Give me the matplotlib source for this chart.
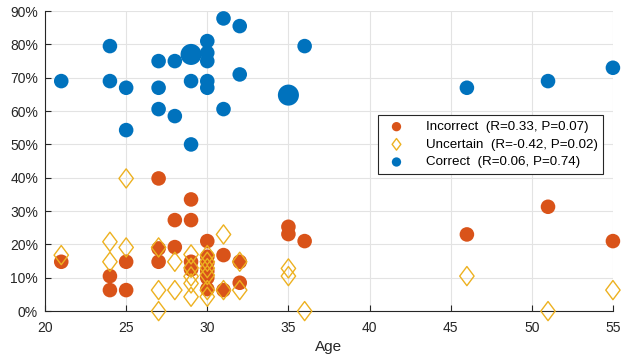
import numpy as np
import matplotlib.pyplot as plt
from matplotlib.path import Path
from matplotlib.ticker import FuncFormatter

plt.rcParams['font.family'] = ['Liberation Sans', 'DejaVu Sans']

# correct (blue), sizes: 1 = normal, 2 = big
cor_age = [21, 24, 24, 25, 25, 27, 27, 27, 28, 28, 29, 29, 29, 30, 30, 30, 30, 30,
           31, 31, 32, 32, 35, 36, 46, 51, 55]
cor_pct = [69, 79.5, 69, 67, 54.3, 75, 67, 60.6, 75, 58.5, 77, 69, 50, 81, 77.5, 75, 69, 67,
           87.8, 60.6, 85.5, 71, 64.8, 79.5, 67, 69, 73]
cor_n = [1, 1, 1, 1, 1, 1, 1, 1, 1, 1, 2, 1, 1, 1, 1, 1, 1, 1,
         1, 1, 1, 1, 2, 1, 1, 1, 1]

inc_age = [21, 24, 24, 25, 25, 27, 27, 27, 28, 28, 29, 29, 29, 29, 30, 30, 30, 30, 30, 30,
           31, 31, 32, 32, 35, 35, 36, 46, 51, 55]
inc_pct = [14.8, 10.5, 6.3, 14.8, 6.3, 39.8, 18.8, 14.8, 27.3, 19.2, 33.5, 27.3, 14.8, 12.5,
           21, 16.3, 14.4, 12, 10, 6.6, 16.8, 6.3, 14.8, 8.5, 25.3, 23.1, 21, 23, 31.3, 21]

unc_age = [21, 24, 24, 25, 25, 27, 27, 27, 28, 28, 29, 29, 29, 29, 29, 30, 30, 30, 30, 30, 30,
           31, 31, 32, 32, 35, 35, 36, 46, 51, 55]
unc_pct = [16.8, 20.8, 14.8, 39.8, 19.1, 19.1, 6.3, 0, 14.8, 6.3, 17, 13, 10.4, 8.3, 4.3,
           16.8, 14.8, 12.9, 10.8, 6.3, 4.3, 23, 6.3, 14.8, 6.3, 12.8, 10.5, 0, 10.5, 0, 6.3]

labels = ['Incorrect  (R=0.33, P=0.07)', 'Uncertain  (R=-0.42, P=0.02)', 'Correct  (R=0.06, P=0.74)']
c_inc = '#D95319'
c_unc = '#EDB120'
c_cor = '#0072BD'

diamond = Path([(0, 1), (0.75, 0), (0, -1), (-0.75, 0), (0, 1)],
               [Path.MOVETO, Path.LINETO, Path.LINETO, Path.LINETO, Path.CLOSEPOLY])

fig = plt.figure(figsize=(6.21, 3.58), dpi=100)
ax = fig.add_axes([0.0725, 0.131, 0.9145, 0.838])

ax.scatter(inc_age, inc_pct, s=110, color=c_inc, edgecolors='none', label=labels[0],
           zorder=3, clip_on=False)
ax.scatter(unc_age, unc_pct, s=190, marker=diamond, facecolors='none', edgecolors=c_unc,
           linewidths=1.0, label=labels[1], zorder=4, clip_on=False)
ax.scatter(cor_age, cor_pct, s=[110 if n == 1 else 230 for n in cor_n], color=c_cor,
           edgecolors='none', label=labels[2], zorder=3, clip_on=False)

ax.set_xlim(20, 55)
ax.set_ylim(0, 90)
ax.set_xticks(np.arange(20, 56, 5))
ax.set_yticks(np.arange(0, 91, 10))
ax.yaxis.set_major_formatter(FuncFormatter(lambda v, p: '%d%%' % v))
ax.grid(True, color='#e3e3e3', linewidth=0.8, zorder=0)
ax.set_axisbelow(True)
for s in ['top', 'right']:
    ax.spines[s].set_visible(False)
for s in ['left', 'bottom']:
    ax.spines[s].set_color('#262626')
    ax.spines[s].set_linewidth(0.8)
ax.tick_params(direction='in', length=4, colors='#262626', labelsize=10, width=0.8)
ax.tick_params(axis='x', pad=7)
ax.tick_params(axis='y', pad=5)
ax.set_xlabel('Age', fontsize=11, color='#262626', labelpad=4)

leg = ax.legend(loc='upper left', bbox_to_anchor=(0.586, 0.652), borderaxespad=0,
                fancybox=False, edgecolor='#262626', fontsize=9.6,
                handletextpad=1.2, handlelength=2.0, labelspacing=0.4, borderpad=0.4,
                framealpha=1)
leg.get_frame().set_linewidth(0.8)
leg.legend_handles[0].set_sizes([45])
leg.legend_handles[1].set_sizes([70])
leg.legend_handles[2].set_sizes([45])

fig.savefig('out.png', dpi=100)
